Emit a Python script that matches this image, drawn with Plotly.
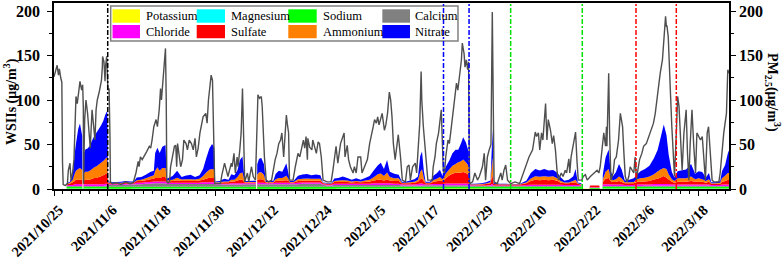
import numpy as np
import pandas as pd
import plotly.graph_objects as go

# ---------------- data ----------------
start_date = "2021-10-25"

# PM2.5 (right axis), day offsets from start_date
pm_day = [
    0.0, 0.3, 0.7, 1.0, 1.2, 1.5, 1.75, 1.9, 2.05, 2.5,
    3.0, 3.2, 3.57, 3.8, 4.17, 4.46, 4.91, 5.2, 5.43, 5.8,
    6.18, 6.4, 6.55, 6.6, 6.85, 7.14, 7.5, 7.9, 8.1, 8.5,
    8.8, 9.15, 9.4, 9.67, 10.1, 10.4, 10.6, 10.8, 10.86, 11.16,
    11.4, 11.5, 11.76, 12.05, 12.3, 12.5, 12.6, 13.0, 14.0, 15.0,
    16.0, 17.0, 17.7, 18.3, 18.8, 19.0, 19.3, 19.7, 20.1, 20.7,
    21.3, 21.6, 21.9, 22.3, 22.8, 23.1, 23.5, 23.8, 24.0, 24.4,
    24.9, 25.07, 25.2, 25.5, 25.8, 26.04, 26.5, 26.9, 27.2, 27.4,
    27.6, 28.0, 28.3, 28.7, 29.0, 29.5, 29.8, 30.2, 30.7, 31.1,
    31.5, 31.8, 32.2, 32.6, 33.3, 33.9, 34.2, 34.5, 34.8, 35.1,
    35.4, 35.7, 35.9,
    36.6, 37.2, 37.5, 38.1, 38.7, 38.85, 39.6, 39.8, 40.2, 40.5,
    40.9, 41.1, 41.5, 41.8, 42.1, 42.4, 42.6, 43.2, 43.5, 44.1,
    44.5, 45.0, 45.3, 45.55, 45.9, 46.3, 46.5, 46.75, 47.0, 47.4,
    48.0, 48.6, 49.1, 49.4, 49.8, 50.2, 50.6, 50.9, 51.3, 51.5,
    51.9, 52.1, 52.4, 52.6, 53.0, 53.4, 53.9, 54.5, 54.9, 55.2,
    55.7, 56.0, 56.3, 56.6, 56.7, 57.1, 57.6, 57.8, 58.2, 58.6,
    59.0, 59.3, 59.7, 60.1, 61.0, 61.9, 62.3, 62.7, 63.0, 63.4,
    64.0, 64.8, 65.0, 65.5, 65.8, 66.2, 66.8, 67.1, 67.5, 67.9,
    68.5, 68.8, 69.4, 70.0, 70.5, 70.9, 71.3, 71.6, 72.0, 72.3,
    72.6, 73.3, 73.8,
    74.12, 74.5, 74.9, 75.2, 75.5, 75.8, 76.2, 76.9, 77.4, 77.8,
    78.5, 78.9, 79.3, 79.6, 80.1, 80.7, 81.0, 81.4, 81.7, 82.0,
    82.15, 82.5, 82.9, 83.2, 83.5, 84.5, 84.7, 85.1, 85.4, 85.9,
    86.2, 86.5, 86.8, 86.95, 87.2, 87.5, 88.0, 88.3, 88.6, 89.0,
    89.4, 89.9, 90.2, 90.6, 91.0, 91.2, 91.6, 91.8, 92.1, 92.4,
    92.6, 92.75, 92.85, 93.5, 94.0, 94.6, 95.0, 95.7, 96.1, 96.4,
    96.8, 97.2, 97.6, 97.9, 98.1, 98.3, 99.0, 99.8, 100.1, 100.5,
    100.9, 101.3, 102.0, 103.0, 104.0, 104.6, 105.4, 106.1, 106.9, 107.5,
    107.8, 108.2, 108.5, 108.9, 109.2, 109.8, 110.1, 110.4, 110.9, 111.3,
    111.6,
    112.0, 112.4, 112.7, 113.3, 113.7, 114.2, 114.5, 115.0, 115.2, 115.5,
    115.9, 116.2, 116.5, 116.8, 117.1, 117.9, 118.2, 118.7, 119.1, 119.8,
    120.6, 121.3, 121.7, 122.0, 122.4, 122.8, 123.2, 123.4, 123.5, 123.9,
    124.1, 124.4, 124.9, 125.2, 125.6, 126.1, 126.5, 126.7, 127.0, 127.3,
    127.6, 128.0, 128.4, 128.7, 129.1, 129.5, 129.8, 130.1, 130.4, 130.8,
    131.3, 131.7, 132.3, 132.6, 133.2, 133.6, 133.9, 134.3, 134.8, 135.4,
    135.9, 136.3, 136.6, 136.8, 136.9, 137.2, 137.4, 137.7, 138.0, 138.4,
    138.6, 139.0, 139.3, 139.6, 139.9, 140.3, 140.7, 141.0, 141.2, 141.5,
    141.8, 142.1, 142.5, 142.9, 143.3, 143.6, 144.4, 144.8, 145.1, 145.5,
    145.9, 146.2, 146.6, 147.0, 147.4, 148.5, 148.8, 149.2, 149.6, 149.9,
    150.2, 150.5, 150.8,
]
pm25 = [
    126, 132, 139, 128, 135, 125, 120, 30, 5, 4,
    6, 21, 29, 10, 19, 33, 104, 96, 106, 121,
    111, 117, 92, 6, 78, 100, 85, 63, 46, 89,
    74, 55, 89, 100, 109, 115, 122, 137, 149, 143,
    121, 137, 149, 111, 113, 60, 8, 6, 7, 5,
    8, 6, 7, 18, 31, 25, 36, 33, 36, 42,
    48, 46, 55, 70, 78, 70, 89, 113, 100, 122,
    158, 100, 8, 7, 8, 25, 36, 48, 49, 25,
    51, 36, 25, 33, 55, 51, 44, 55, 51, 44,
    57, 36, 46, 63, 81, 85, 74, 100, 119, 128,
    122, 55, 6,
    6, 6, 16, 29, 17, 14, 29, 25, 40, 18,
    36, 25, 44, 63, 113, 30, 8, 18, 8, 25,
    14, 10, 60, 106, 102, 104, 93, 55, 36, 10,
    8, 10, 25, 33, 40, 51, 55, 63, 36, 55,
    83, 74, 63, 10, 10, 10, 25, 40, 36, 44,
    55, 46, 59, 33, 57, 47, 44, 55, 47, 40,
    53, 51, 36, 10, 8, 8, 21, 36, 48, 29,
    51, 63, 36, 49, 33, 25, 18, 25, 18, 36,
    36, 18, 25, 33, 51, 63, 70, 78, 74, 81,
    72, 85, 66,
    72, 85, 109, 100, 81, 51, 33, 61, 36, 10,
    8, 25, 27, 10, 25, 29, 18, 48, 74, 132,
    100, 70, 48, 25, 10, 10, 25, 36, 51, 63,
    78, 89, 44, 20, 18, 36, 55, 51, 63, 81,
    96, 119, 111, 130, 145, 164, 152, 137, 145, 134,
    143, 40, 6, 8, 18, 10, 14, 25, 40, 10,
    36, 44, 50, 199, 70, 8, 6, 18, 10, 21,
    27, 10, 6, 8, 6, 14, 25, 36, 44, 64,
    59, 63, 44, 63, 55, 96, 55, 78, 66, 51,
    60,
    44, 18, 10, 18, 14, 21, 18, 34, 18, 36,
    48, 55, 64, 33, 10, 10, 14, 16, 10, 14,
    18, 21, 18, 25, 44, 63, 48, 70, 48, 130,
    63, 10, 18, 33, 36, 55, 85, 78, 70, 40,
    14, 8, 14, 25, 21, 18, 36, 10, 21, 33,
    40, 48, 51, 55, 63, 70, 74, 85, 107, 130,
    145, 171, 194, 182, 184, 171, 137, 107, 70, 40,
    14, 63, 104, 93, 55, 21, 63, 81, 89, 40,
    10, 51, 89, 48, 18, 63, 55, 59, 40, 10,
    63, 70, 40, 10, 8, 8, 18, 44, 63, 74,
    85, 134, 130,
]

# Water-soluble inorganic ions (left axis, stacked), day offsets
ion_day = [
    2.8, 3.5, 4.2, 4.6, 4.9, 5.4, 5.8, 6.3, 6.38, 6.55, 6.62, 7.0, 7.5, 8.0, 8.5, 9.0, 9.5, 10.0, 10.5, 11.0, 11.5, 11.9, 12.1,
    13.0, 14.0, 15.0, 16.0, 17.0, 17.8, 18.5, 19.5, 20.5, 21.5, 22.3, 22.6, 23.1, 23.6, 24.2, 24.9, 25.2,
    26.5, 27.5, 28.5, 29.5, 30.5, 31.5, 32.5, 33.3, 34.0, 34.7, 35.3, 35.8, 36.0,
    37.0, 38.0, 39.0, 39.6, 40.3, 41.0, 41.5, 42.1, 42.6, 43.5, 44.5, 45.1, 45.15, 45.35, 45.4, 45.8, 46.3, 46.9, 47.3, 48.0, 49.0, 49.5, 50.2, 51.0, 51.9, 52.4, 52.7, 53.5, 54.5, 55.5, 56.5, 57.5, 58.5, 59.5, 60.1,
    61.0, 62.0, 62.6, 63.5, 64.5, 65.5, 66.5, 67.5, 68.5, 69.5, 70.5, 71.5, 72.3, 73.0, 73.7, 74.4, 75.0, 76.0, 77.0, 77.7,
    78.5, 79.5, 80.5, 81.3, 81.8, 82.2, 82.6, 83.0, 84.0, 84.8, 85.5, 86.2, 86.8, 87.5, 88.3, 89.0, 89.7, 90.3, 90.9, 91.4, 92.0, 92.6, 92.85,
    94.0, 95.5, 96.5, 97.5, 97.8, 97.95, 98.2, 99.5, 101.0, 102.5, 104.0, 105.5, 106.5, 107.5, 108.5, 109.5, 110.5, 111.5, 112.5,
    113.1, 114.0, 115.0, 116.0, 116.5, 117.0, 117.8, 117.9, 119.6, 119.7, 121.8, 121.9, 122.5, 122.6, 123.2, 123.9, 124.3, 124.8, 125.5, 126.2, 126.8, 127.5, 128.5, 129.5, 130.2, 131.0, 132.0, 133.0, 134.0, 134.8, 135.4, 136.2, 136.8, 137.3, 138.0, 138.6, 139.3, 140.3, 141.2, 142.3, 143.2, 144.0, 144.8, 145.6, 146.3, 146.8, 147.8, 148.8, 149.2, 149.9, 150.5, 150.8,
]
nitrate = [
    1, 1, 6, 22, 30, 45, 50, 38, 0, 0, 22, 25, 26, 28, 32, 35, 38, 40, 42, 45, 50, 52, 1,
    1, 1, 1, 1.5, 1, 1, 3, 3, 4, 5, 5, 20, 22, 20, 24, 26, 2,
    4, 8, 3, 4, 5, 3, 4, 8, 16, 24, 28, 25, 1,
    1.5, 3, 2, 6, 5, 8, 15, 18, 1, 1, 1.5, 1.5, 0, 0, 12, 15, 16, 12, 1, 1, 1.5, 6, 8, 7, 14, 6, 1, 1, 4, 5, 5, 4, 5, 4, 0.5,
    0.5, 0.5, 3, 3, 4, 3, 2, 3, 2, 3, 4, 8, 10, 12, 8, 14, 6, 5, 4, 1,
    1, 2, 3, 4, 18, 20, 8, 1, 1, 5, 6, 8, 4, 8, 10, 14, 16, 14, 20, 25, 22, 16, 0.5,
    0.5, 1, 1.5, 2, 20, 32, 1, 0.5, 0.5, 0.5, 0.5, 2, 6, 8, 7, 8, 7, 7, 6,
    4, 2, 3, 5, 12, 1, 1, 0, 0, 0, 0, 0, 0, 6, 16, 22, 8, 4, 8, 14, 10, 2, 3, 4, 5, 8, 10, 12, 18, 24, 34, 49, 38, 22, 8, 4, 8, 9, 10, 14, 6, 8, 8, 4, 7, 1, 1, 2, 8, 12, 22, 26,
]
ammonium = [
    0.5, 1, 3, 8, 10, 12, 13, 11, 0, 0, 8, 9, 9, 10, 11, 12, 13, 14, 15, 16, 17, 18, 1,
    0.5, 0.5, 0.5, 0.5, 0.5, 0.5, 1, 1.5, 2, 3, 4, 8, 12, 8, 10, 10, 1,
    1.5, 3, 1.5, 2, 2, 1.5, 2, 4, 7, 9, 10, 9, 0.5,
    0.5, 1, 1, 2, 2, 4, 7, 8, 0.5, 0.5, 0.5, 0.5, 0, 0, 6, 8, 8, 6, 0.5, 0.5, 0.5, 2, 3, 3, 5, 2, 0.5, 0.5, 2, 2, 2.5, 2, 2, 2, 0.3,
    0.3, 0.3, 1, 1.5, 2, 1.5, 1, 1, 1, 1.5, 2, 4, 6, 7, 5, 8, 4, 3, 3, 0.5,
    0.5, 1, 1, 2, 8, 10, 4, 0.5, 0.5, 2, 3, 4, 2, 5, 7, 9, 10, 12, 13, 14, 12, 10, 0.3,
    0.3, 0.5, 0.5, 1, 14, 20, 0.5, 0.3, 0.3, 0.3, 0.3, 1, 3, 4, 4, 4, 4, 4, 3,
    2, 1, 1, 2, 3, 0.5, 0.5, 0, 0, 0, 0, 0, 0, 3, 8, 10, 4, 2, 3, 5, 4, 1, 1, 1.5, 3, 4, 4, 5, 6, 8, 9, 9, 10, 6, 3, 2, 4, 4, 4, 5, 3, 4, 3, 2, 3, 0.5, 0.5, 1, 4, 6, 8, 8,
]
sulfate = [
    1, 1.5, 3, 4, 5, 5, 5, 5, 0, 0, 4, 5, 5, 5, 6, 7, 7, 8, 9, 10, 11, 12, 1,
    1, 1, 1.2, 1.2, 1, 1, 2, 2, 2.5, 3, 3, 4, 4, 4, 5, 5, 1.5,
    2, 2.5, 2, 2, 2, 2, 2.5, 3, 4, 5, 5, 5, 1,
    1, 1.5, 1.5, 2, 2, 3, 4, 4, 1, 1, 1, 1, 0, 0, 3, 4, 4, 3, 1, 1, 1, 2, 2.5, 2.5, 3, 2, 1, 1, 2, 2, 2, 2, 2, 2, 1,
    1, 1, 2, 2, 2, 2, 1.5, 2, 1.5, 2, 2.5, 3, 4, 4, 3, 4, 3, 3, 3, 1.5,
    1.5, 1.5, 2, 2.5, 5, 6, 3, 1.5, 1.5, 2.5, 3, 4, 3, 6, 9, 11, 12, 12, 12, 13, 12, 10, 1,
    1, 1, 1.5, 2, 8, 10, 1.5, 1, 1, 1, 1, 2, 4, 5.5, 5, 5.5, 5, 5.5, 4,
    2.5, 2, 2, 3, 3, 1.5, 1, 0, 0, 2, 2, 0, 0, 3, 6, 7, 4, 3, 3, 4, 3, 2, 2, 2, 3, 3, 3.5, 4, 5, 6, 7, 9, 7, 5, 3, 2, 3, 3, 3, 4, 3, 3, 3, 2, 3, 1.5, 1.5, 1.5, 3, 4, 5, 5,
]
chloride = [
    0.5, 1, 1, 1.5, 2, 2, 2, 2, 0, 0, 2, 2, 2, 2, 2, 2, 2, 2, 2, 2, 2, 2, 1,
    1, 1, 1, 1, 1, 1, 1.5, 1.5, 1.5, 2, 2, 2, 2, 2, 2, 2, 1.5,
    1.5, 1.5, 1.5, 1.5, 1.5, 1.5, 1.5, 2, 2, 2, 2, 2, 1,
    1, 1, 1, 1.5, 1.5, 1.5, 1.5, 1.5, 1, 1, 1, 1, 0, 0, 1.5, 1.5, 1.5, 1.5, 1, 1, 1, 1.5, 1.5, 1.5, 1.5, 1.5, 1, 1, 1.5, 1.5, 1.5, 1.5, 1.5, 1.5, 1,
    1, 1, 1.5, 1.5, 1.5, 1.5, 1.5, 1.5, 1.5, 1.5, 1.5, 2, 2, 2, 2, 2, 2, 1.5, 1.5, 1,
    1, 1, 1, 1.5, 2, 2, 1.5, 1, 1, 1.5, 1.5, 1.5, 1.5, 2, 2, 2, 2, 2, 2, 2, 2, 2, 0.5,
    0.5, 0.5, 0.5, 1, 2, 2, 0.5, 0.5, 0.5, 0.5, 0.5, 1, 1.5, 1.5, 1.5, 1.5, 1.5, 1.5, 1.5,
    1.5, 1, 1, 1, 1, 1, 0.5, 0, 0, 0.5, 0.5, 0, 0, 1.5, 2, 2, 1.5, 1.5, 1.5, 1.5, 1.5, 1, 1, 1, 1.5, 1.5, 1.5, 1.5, 2, 2, 2, 2, 2, 2, 1.5, 1.5, 1.5, 1.5, 1.5, 1.5, 1.5, 1.5, 1.5, 1.5, 1.5, 1, 1, 1, 1.5, 1.5, 1.5, 1.5,
]
calcium = [
    1, 1, 1, 1, 1, 1, 1, 1, 0, 0, 1, 1, 1, 1, 1, 1, 1, 1, 1, 1, 1.5, 1.5, 2,
    2, 2, 2, 2.5, 2.5, 2.5, 3, 3, 3.5, 3.5, 4, 4, 4, 4, 4, 4, 3,
    3, 3, 3, 3, 3, 3, 3, 3, 3, 3, 3, 3, 2.5,
    2.5, 2.5, 2.5, 2.5, 2.5, 2.5, 2.5, 2.5, 3, 3, 3, 3, 0, 0, 3, 3, 3, 3, 3, 3, 3, 3, 3, 3, 3, 3, 3, 3, 3, 3.5, 3.5, 3.5, 3.5, 3.5, 2,
    1.5, 1.5, 2, 2, 2, 2, 2, 2, 2, 2, 2, 2, 2, 2, 2, 2, 2, 2, 2, 1.5,
    1.5, 1.5, 1.5, 1.5, 1.5, 1.5, 1.5, 1.5, 1.5, 1.5, 1.5, 1.5, 1.5, 1.5, 1.5, 1.5, 1.5, 1.5, 1.5, 1.5, 1.5, 1.5, 1,
    1, 1, 1, 1, 1, 1, 1, 1, 1, 1, 1, 1, 1, 1, 1, 1, 1, 1, 1,
    1, 1, 1, 1, 1, 1, 1, 0, 0, 0, 0, 0, 0, 1, 1, 1, 1, 1, 1, 1, 1, 1, 1, 1, 1, 1, 1, 1, 1, 1, 1, 1, 1, 1, 1, 1, 1, 1, 1, 1, 1, 1, 1, 1, 1, 1, 1, 1, 1, 1, 1, 1,
]
sodium = [
    2, 2, 2, 2, 2, 2, 2, 2, 0, 0, 2, 2, 2, 2, 2, 2, 2, 2, 2, 2, 2, 2, 2,
    2, 2, 2, 2, 2, 2, 2, 2, 2, 2, 2, 2, 2, 2, 2, 2, 2,
    2, 2, 2, 2, 2, 2, 2, 2, 2, 2, 2, 2, 2,
    2, 2, 2, 2, 2, 2, 2, 2, 2, 2, 2, 2, 0, 0, 2, 2, 2, 2, 2, 2, 2, 2, 2, 2, 2, 2, 2, 2, 2, 2, 2, 2, 2, 2, 2,
    2, 2, 2, 2, 2, 2, 2, 2, 2, 2, 2, 2, 2, 2, 2, 2, 2, 2, 2, 2,
    2, 2, 2, 2, 2, 2, 2, 2, 2, 2, 2, 2, 2, 2, 2, 2, 2, 2, 2, 2, 2, 2, 2,
    2, 2, 2, 2, 2, 2, 2, 2, 2, 2, 2, 2, 2, 2, 2, 2, 2, 2, 2,
    2, 2, 2, 2, 2, 2, 2, 0, 0, 1, 1, 0, 0, 2, 2, 2, 2, 2, 2, 2, 2, 2, 2, 2, 2, 2, 2, 2, 2, 2, 2, 2, 2, 2, 2, 2, 2, 2, 2, 2, 2, 2, 2, 2, 2, 2, 2, 2, 2, 2, 2, 2,
]
# minor ions (barely visible), coarse sampling
minor_day = [3, 15, 30, 45, 60, 75, 90, 105, 120, 135, 150]
potassium = [0.4, 0.3, 0.4, 0.3, 0.3, 0.4, 0.5, 0.3, 0.3, 0.4, 0.4]
magnesium = [0.1, 0.1, 0.15, 0.1, 0.1, 0.1, 0.15, 0.1, 0.1, 0.15, 0.1]

# x axis ticks
tick_dates = ["2021-10-25", "2021-11-06", "2021-11-18", "2021-11-30", "2021-12-12", "2021-12-24",
              "2022-01-05", "2022-01-17", "2022-01-29", "2022-02-10", "2022-02-22", "2022-03-06", "2022-03-18"]
tick_text = ["2021/10/25", "2021/11/6", "2021/11/18", "2021/11/30", "2021/12/12", "2021/12/24",
             "2022/1/5", "2022/1/17", "2022/1/29", "2022/2/10", "2022/2/22", "2022/3/6", "2022/3/18"]

# event markers (vertical dash-dot lines)
event_dates = ["2021-11-06", "2022-01-20", "2022-01-25 17:00", "2022-02-04", "2022-02-20", "2022-03-04", "2022-03-13"]
event_colors = ["#000000", "#0000FF", "#0000FF", "#00E000", "#00E000", "#FF0000", "#FF0000"]

# ---------------- figure ----------------
for nm, arr in [("nitrate", nitrate), ("ammonium", ammonium), ("sulfate", sulfate),
                ("chloride", chloride), ("calcium", calcium), ("sodium", sodium)]:
    if len(arr) != len(ion_day):
        raise ValueError(f"{nm}: {len(arr)} vs {len(ion_day)}")
if len(pm25) != len(pm_day):
    raise ValueError(f"pm: {len(pm25)} vs {len(pm_day)}")

base = pd.Timestamp(start_date)
def to_dt(days):
    return base + pd.to_timedelta(np.array(days, dtype=float), unit="D")

ion_x = to_dt(ion_day)
minor_x = to_dt(minor_day)
pm_x = to_dt(pm_day)

FONT = "Liberation Serif, Times New Roman, serif"
fig = go.Figure()

stack = [
    ("Potassium", minor_x, potassium, "#FFFF00"),
    ("Magnesium", minor_x, magnesium, "#00FFFF"),
    ("Sodium", ion_x, sodium, "#00FF00"),
    ("Calcium", ion_x, calcium, "#808080"),
    ("Chloride", ion_x, chloride, "#FF00FF"),
    ("Sulfate", ion_x, sulfate, "#FF0000"),
    ("Ammonium", ion_x, ammonium, "#FF8000"),
    ("Nitrate", ion_x, nitrate, "#0000FF"),
]
for name, xs, ys, col in stack:
    fig.add_trace(go.Scatter(
        x=xs, y=ys, name=name, mode="none", stackgroup="ions",
        stackgaps="interpolate", fillcolor=col, showlegend=False,
        hoverinfo="skip"))

fig.add_trace(go.Scatter(
    x=pm_x, y=pm25, name="PM2.5", mode="lines", yaxis="y2",
    line=dict(color="#4f4f4f", width=1.4), showlegend=False, hoverinfo="skip"))

x_end = base + pd.Timedelta(days=150.77)
tickfont = dict(family=FONT, size=16, color="black", weight="bold")
fig.update_layout(
    width=782, height=262,
    margin=dict(l=54, r=53, t=3, b=73, autoexpand=False),
    paper_bgcolor="white", plot_bgcolor="white",
    showlegend=False, hovermode=False,
    xaxis=dict(
        type="date", range=[base, x_end], automargin=False,
        tickmode="array", tickvals=tick_dates, ticktext=tick_text,
        tickangle=-45, tickfont=dict(family=FONT, size=14.5, color="black", weight="bold"),
        ticklabeloverflow="allow", ticklabelshift=5, ticklabelstandoff=0,
        ticks="outside", ticklen=5, tickwidth=1.3, tickcolor="black",
        minor=dict(ticks="outside", ticklen=3, tickwidth=1, tickcolor="black",
                   tickmode="linear", tick0=start_date, dtick=2 * 86400000),
        showline=True, linecolor="black", linewidth=1.5, mirror=True,
        showgrid=False, zeroline=False),
    yaxis=dict(
        range=[0, 209], tickmode="linear", tick0=0, dtick=50, automargin=False,
        tickfont=tickfont, ticks="outside", ticklen=5, tickwidth=1.3, tickcolor="black",
        ticklabelstandoff=4, ticklabeloverflow="allow",
        minor=dict(ticks="outside", ticklen=3, tickwidth=1, tickcolor="black", dtick=25),
        showline=True, linecolor="black", linewidth=1.5,
        showgrid=False, zeroline=False),
    yaxis2=dict(
        range=[0, 209], overlaying="y", side="right", tickmode="linear", tick0=0, dtick=50,
        automargin=False, ticklabeloverflow="allow",
        tickfont=tickfont, ticks="outside", ticklen=5, tickwidth=1.3, tickcolor="black",
        minor=dict(ticks="outside", ticklen=3, tickwidth=1, tickcolor="black", dtick=25),
        showline=True, linecolor="black", linewidth=1.5,
        showgrid=False, zeroline=False),
)

# axis titles
fig.add_annotation(text="WSIIs (μg/m<sup>3</sup>)", xref="paper", yref="paper",
                   x=-0.0652, y=0.473, xanchor="center", yanchor="middle",
                   textangle=-90, showarrow=False,
                   font=dict(family=FONT, size=14, color="black", weight="bold"))
fig.add_annotation(text="PM<sub>2.5</sub>(μg/m<sup>3</sup>)", xref="paper", yref="paper",
                   x=1.0645, y=0.519, xanchor="center", yanchor="middle",
                   textangle=90, showarrow=False,
                   font=dict(family=FONT, size=14, color="black", weight="bold"))

# manual legend box
fig.add_shape(type="rect", xref="paper", yref="paper", x0=0.0840, x1=0.5985, y0=0.7957, y1=0.9839,
              line=dict(color="#808080", width=1.5), fillcolor="white", layer="above")
leg_names = [["Potassium", "Magnesium", "Sodium", "Calcium"],
             ["Chloride", "Sulfate", "Ammonium", "Nitrate"]]
leg_cols = [["#FFFF00", "#00FFFF", "#00FF00", "#808080"],
            ["#FF00FF", "#FF0000", "#FF8000", "#0000FF"]]
sw_x = [(0.0867, 0.1274), (0.2114, 0.2533), (0.3471, 0.3892), (0.4864, 0.5274)]
tx_x = [0.1333, 0.2593, 0.3951, 0.5323]
row_y = [(0.8941, 0.9661), (0.8105, 0.8817)]
row_c = [0.930, 0.844]
for r in range(2):
    for c in range(4):
        fig.add_shape(type="rect", xref="paper", yref="paper",
                      x0=sw_x[c][0], x1=sw_x[c][1], y0=row_y[r][0], y1=row_y[r][1],
                      line=dict(width=0), fillcolor=leg_cols[r][c], layer="above")
        fig.add_annotation(text=leg_names[r][c], xref="paper", yref="paper",
                           x=tx_x[c], y=row_c[r], xanchor="left", yanchor="middle",
                           showarrow=False, font=dict(family=FONT, size=12.5, color="black"))

# event lines
for d, col in zip(event_dates, event_colors):
    fig.add_shape(type="line", xref="x", yref="paper", x0=d, x1=d, y0=0, y1=1,
                  line=dict(color=col, width=1.5, dash="5px,2px,2px,2px"), layer="above")

fig.write_html("out.html", config={"displayModeBar": False},
               post_script="document.body.style.margin='0px';")
